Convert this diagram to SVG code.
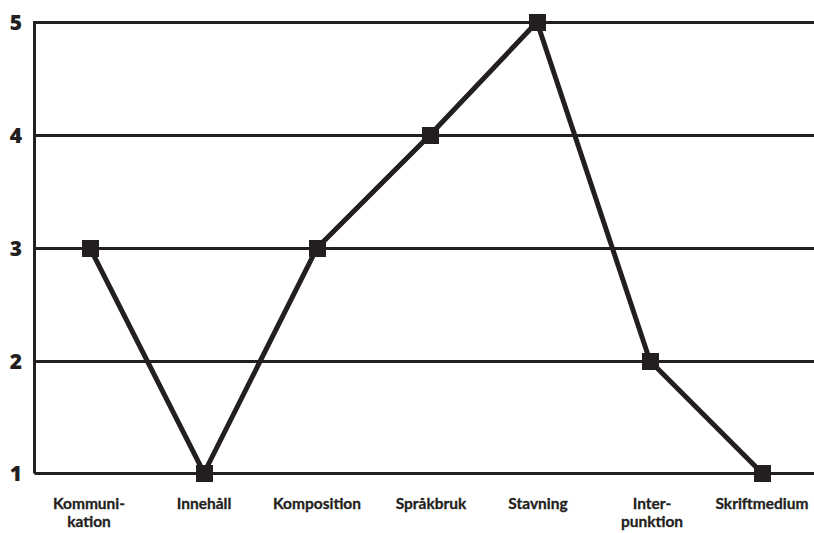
<svg xmlns="http://www.w3.org/2000/svg" width="814" height="533" viewBox="0 0 814 533">
  <style>
    .grid { stroke: #231f20; stroke-width: 3; fill: none; }
    .series { stroke: #231f20; stroke-width: 5; fill: none; stroke-linejoin: miter; }
    .pt { fill: #231f20; }
    .ylab { font-family: "Open Sans", Lato, sans-serif; font-weight: 800; font-size: 21px; fill: #231f20; text-anchor: middle; }
    .xlab { font-family: Lato, "Open Sans", sans-serif; font-weight: 700; font-size: 15.5px; fill: #231f20; text-anchor: middle; stroke: #231f20; stroke-width: 0.3; }
  </style>
  <rect width="814" height="533" fill="#ffffff"/>
  <g id="axes">
    <path class="grid" d="M34.5 473.5V22.5H814"/>
    <path class="grid" d="M34.5 135.5H814M34.5 248.5H814M34.5 361.5H814M34.5 473.5H814"/>
  </g>
  <g id="y-labels">
    <text class="ylab" x="16" y="30">5</text>
    <text class="ylab" x="16" y="143">4</text>
    <text class="ylab" x="16" y="256">3</text>
    <text class="ylab" x="16" y="369">2</text>
    <text class="ylab" x="16" y="481">1</text>
  </g>
  <g id="connectors">
    <polyline class="series" points="90,248 204,473 317,248 430,135 537,22 650,361 762,473"/>
  </g>
  <g id="point-kommunikation"><rect class="pt" x="82" y="240" width="17" height="17"/></g>
  <g id="point-innehall"><rect class="pt" x="196" y="465" width="17" height="17"/></g>
  <g id="point-komposition"><rect class="pt" x="309" y="240" width="17" height="17"/></g>
  <g id="point-sprakbruk"><rect class="pt" x="422" y="127" width="17" height="17"/></g>
  <g id="point-stavning"><rect class="pt" x="529" y="14" width="17" height="17"/></g>
  <g id="point-interpunktion"><rect class="pt" x="642" y="353" width="17" height="17"/></g>
  <g id="point-skriftmedium"><rect class="pt" x="754" y="465" width="17" height="17"/></g>
  <g id="x-labels">
    <text class="xlab" x="89" y="509">Kommuni-</text>
    <text class="xlab" x="89" y="527">kation</text>
    <text class="xlab" x="204" y="509">Innehåll</text>
    <text class="xlab" x="317" y="509">Komposition</text>
    <text class="xlab" x="431" y="509">Språkbruk</text>
    <text class="xlab" x="538" y="509">Stavning</text>
    <text class="xlab" x="652" y="509">Inter-</text>
    <text class="xlab" x="652" y="527">punktion</text>
    <text class="xlab" x="762" y="509">Skriftmedium</text>
  </g>
</svg>
